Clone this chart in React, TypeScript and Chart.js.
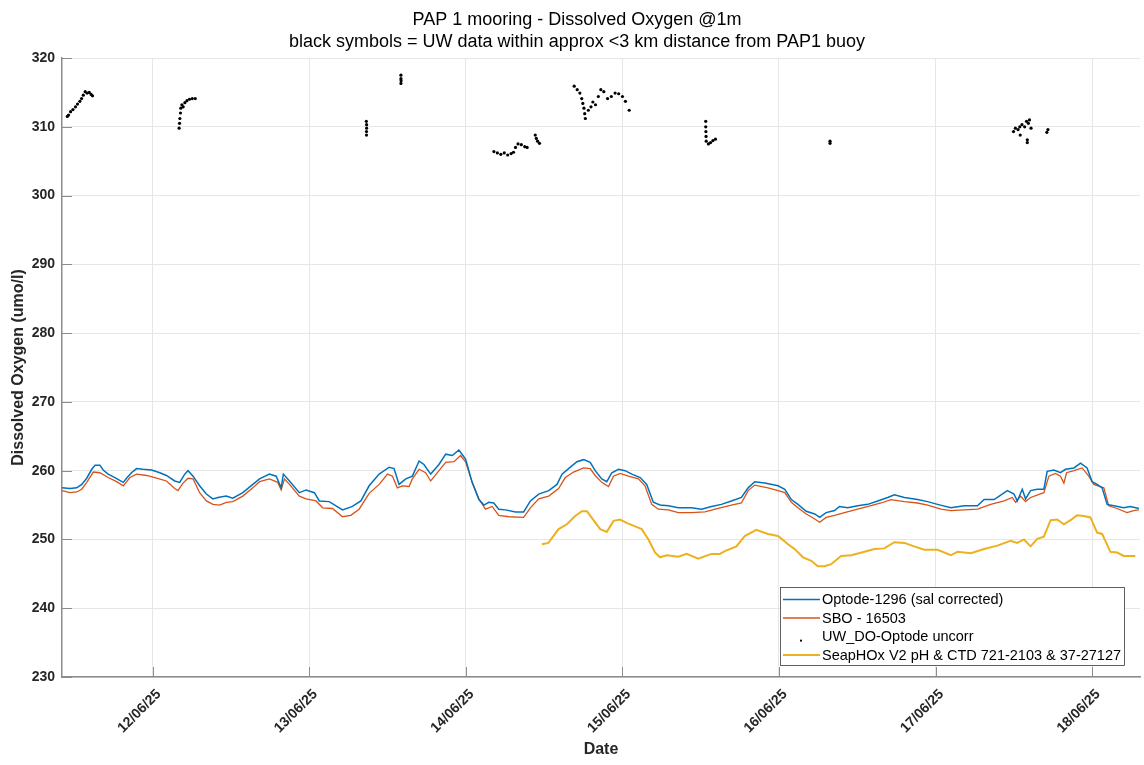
import React, { useEffect, useRef } from "react";
import { Chart, registerables } from "chart.js";

Chart.register(...registerables);

const CANVAS_W = 1144;
const CANVAS_H = 765;
const FONT = '"Liberation Sans", Arial, Helvetica, sans-serif';

const titleLines = [
  "PAP 1 mooring - Dissolved Oxygen @1m",
  "black symbols = UW data within approx <3 km distance from PAP1 buoy",
];
const yAxisTitle = "Dissolved Oxygen (umo/l)";
const xAxisTitle = "Date";

// x = days since 11/06/25 00:00
const xMin = 0.42;
const xMax = 7.306;
const xTickValues = [1, 2, 3, 4, 5, 6, 7];
const xTickLabels = ["12/06/25", "13/06/25", "14/06/25", "15/06/25", "16/06/25", "17/06/25", "18/06/25"];
const yMin = 230;
const yMax = 320;
const yTickValues = [230, 240, 250, 260, 270, 280, 290, 300, 310, 320];

const seriesNames = [
  "Optode-1296 (sal corrected)",
  "SBO - 16503",
  "UW_DO-Optode uncorr",
  "SeapHOx V2 pH & CTD 721-2103 & 37-27127",
];
const seriesColors = ["#0072BD", "#D95319", "#000000", "#EDB120"];

const optodeT = [
  0.42, 0.471, 0.514, 0.546, 0.578, 0.61, 0.631, 0.662, 0.683, 0.715, 0.758, 0.811, 0.832, 0.864, 0.896, 0.938,
  0.992, 1.045, 1.087, 1.14, 1.172, 1.204, 1.225, 1.257, 1.299, 1.342, 1.384, 1.416, 1.469, 1.511, 1.575, 1.639,
  1.682, 1.745, 1.788, 1.82, 1.834, 1.873, 1.936, 1.979, 2.032, 2.064, 2.127, 2.212, 2.275, 2.329, 2.382, 2.446,
  2.51, 2.541, 2.573, 2.616, 2.658, 2.701, 2.732, 2.775, 2.828, 2.871, 2.913, 2.955, 2.998, 3.04, 3.083, 3.115,
  3.146, 3.178, 3.21, 3.253, 3.317, 3.369, 3.412, 3.465, 3.529, 3.582, 3.614, 3.656, 3.709, 3.752, 3.794, 3.826,
  3.868, 3.9, 3.932, 3.975, 4.017, 4.06, 4.113, 4.155, 4.197, 4.24, 4.293, 4.357, 4.441, 4.505, 4.569, 4.632,
  4.696, 4.76, 4.803, 4.845, 4.909, 4.994, 5.037, 5.079, 5.121, 5.174, 5.228, 5.26, 5.301, 5.355, 5.386, 5.439,
  5.503, 5.567, 5.631, 5.694, 5.737, 5.801, 5.885, 5.949, 6.013, 6.098, 6.183, 6.268, 6.31, 6.374, 6.459, 6.501,
  6.522, 6.554, 6.575, 6.607, 6.65, 6.692, 6.713, 6.756, 6.798, 6.83, 6.884, 6.926, 6.968, 7.0, 7.032, 7.064,
  7.096, 7.139, 7.202, 7.245, 7.299,
];
const optodeV = [
  257.5, 257.4, 257.5, 258.0, 258.9, 260.2, 260.8, 260.8, 260.1, 259.5, 259.0, 258.3, 258.9, 259.7, 260.3, 260.2,
  260.1, 259.7, 259.3, 258.5, 258.3, 259.5, 260.0, 259.2, 257.8, 256.6, 255.9, 256.1, 256.3, 256.0, 256.8, 258.0,
  258.8, 259.5, 259.2, 257.5, 259.5, 258.5, 256.8, 257.2, 256.8, 255.6, 255.5, 254.3, 254.8, 255.6, 257.8, 259.5,
  260.5, 260.3, 258.0, 258.8, 259.2, 261.4, 260.9, 259.5, 260.9, 262.4, 262.2, 263.0, 261.7, 258.3, 255.8, 255.0,
  255.4, 255.3, 254.4, 254.3, 254.0, 254.0, 255.6, 256.6, 257.1, 258.0, 259.5, 260.3, 261.3, 261.6, 261.2, 260.0,
  258.8, 258.4, 259.7, 260.2, 260.0, 259.5, 259.0, 258.0, 255.4, 255.0, 254.9, 254.6, 254.6, 254.4, 254.8, 255.1,
  255.6, 256.1, 257.5, 258.4, 258.2, 257.8, 257.3, 255.8, 255.1, 254.1, 253.7, 253.2, 253.9, 254.2, 254.8, 254.6,
  254.9, 255.1, 255.6, 256.1, 256.5, 256.1, 255.8, 255.5, 255.1, 254.6, 254.9, 254.9, 255.8, 255.8, 257.1, 256.6,
  255.6, 257.3, 255.9, 257.1, 257.3, 257.3, 259.9, 260.1, 259.7, 260.2, 260.4, 261.1, 260.4, 258.4, 258.0, 257.5,
  255.1, 254.9, 254.6, 254.8, 254.5,
];

const sboT = [
  0.42, 0.471, 0.514, 0.546, 0.578, 0.62, 0.662, 0.715, 0.769, 0.811, 0.854, 0.896, 0.96, 1.024, 1.087, 1.14,
  1.161, 1.193, 1.225, 1.257, 1.299, 1.342, 1.384, 1.427, 1.469, 1.511, 1.575, 1.639, 1.682, 1.745, 1.798, 1.82,
  1.841, 1.873, 1.936, 1.979, 2.043, 2.085, 2.148, 2.212, 2.265, 2.318, 2.382, 2.446, 2.499, 2.531, 2.562, 2.594,
  2.637, 2.658, 2.701, 2.743, 2.775, 2.828, 2.871, 2.924, 2.966, 2.998, 3.04, 3.083, 3.125, 3.168, 3.21, 3.274,
  3.369, 3.412, 3.465, 3.529, 3.592, 3.635, 3.688, 3.752, 3.794, 3.826, 3.868, 3.911, 3.943, 3.985, 4.038, 4.102,
  4.144, 4.187, 4.229, 4.293, 4.357, 4.441, 4.527, 4.611, 4.696, 4.76, 4.803, 4.845, 4.93, 4.994, 5.037, 5.079,
  5.121, 5.174, 5.206, 5.26, 5.301, 5.355, 5.418, 5.503, 5.588, 5.652, 5.715, 5.801, 5.885, 5.949, 6.034, 6.098,
  6.183, 6.268, 6.352, 6.438, 6.49, 6.512, 6.543, 6.575, 6.607, 6.692, 6.724, 6.766, 6.798, 6.82, 6.837, 6.884,
  6.936, 6.979, 7.011, 7.075, 7.106, 7.159, 7.223, 7.266, 7.299,
];
const sboV = [
  257.1, 256.8, 256.9, 257.3, 258.3, 259.8, 259.7, 259.0, 258.4, 257.8, 259.0, 259.5, 259.3, 258.9, 258.5, 257.4,
  257.1, 258.2, 258.9, 258.8, 256.8, 255.6, 255.1, 255.0, 255.4, 255.5, 256.3, 257.5, 258.4, 258.8, 258.3, 257.2,
  258.8, 258.0, 256.3, 255.9, 255.6, 254.6, 254.5, 253.3, 253.5, 254.4, 256.7, 258.0, 259.5, 259.2, 257.5, 257.8,
  257.7, 258.8, 260.2, 259.7, 258.5, 260.0, 261.2, 261.3, 262.2, 261.3, 258.3, 255.9, 254.4, 254.8, 253.5, 253.3,
  253.2, 254.6, 255.9, 256.3, 257.4, 259.0, 259.8, 260.4, 260.3, 259.3, 258.3, 257.7, 259.2, 259.6, 259.2, 258.8,
  257.8, 255.1, 254.4, 254.3, 253.9, 253.9, 254.0, 254.5, 255.0, 255.3, 257.1, 257.9, 257.5, 257.1, 256.8, 255.4,
  254.6, 253.7, 253.3, 252.5, 253.2, 253.5, 253.9, 254.4, 254.9, 255.3, 255.8, 255.5, 255.3, 255.0, 254.4, 254.2,
  254.3, 254.4, 255.1, 255.6, 256.1, 255.4, 256.3, 255.5, 256.1, 256.8, 259.2, 259.6, 259.2, 258.2, 259.7, 260.0,
  260.4, 259.2, 258.0, 257.5, 254.9, 254.5, 253.9, 254.2, 254.3,
];

const uwT = [
  0.454, 0.462, 0.475, 0.49, 0.506, 0.519, 0.534, 0.545, 0.556, 0.568, 0.58, 0.594, 0.606, 0.615,
  1.168, 1.171, 1.173, 1.177, 1.179, 1.186, 1.194, 1.205, 1.218, 1.234, 1.252, 1.271,
  2.364, 2.366, 2.366, 2.365, 2.365,
  2.585, 2.585, 2.586, 2.585,
  3.179, 3.201, 3.223, 3.245, 3.267, 3.289, 3.304, 3.317, 3.333, 3.354, 3.376, 3.391, 3.443, 3.45, 3.458, 3.47,
  3.692, 3.711, 3.728, 3.74, 3.747, 3.754, 3.759, 3.763, 3.782, 3.799, 3.811, 3.828, 3.846, 3.862, 3.881, 3.905,
  3.929, 3.953, 3.976, 4.0, 4.019, 4.043,
  4.532, 4.532, 4.533, 4.534, 4.535, 4.549, 4.563, 4.578, 4.594,
  5.326, 5.326,
  6.498, 6.51, 6.527, 6.538, 6.552, 6.569, 6.581, 6.593, 6.6, 6.61, 6.586, 6.586, 6.541, 6.718, 6.711,
];
const uwV = [
  311.5, 311.7, 312.2, 312.5, 312.9, 313.3, 313.7, 314.1, 314.6, 315.1, 314.9, 315.0, 314.7, 314.5,
  309.8, 310.5, 311.2, 312.0, 312.7, 313.2, 312.9, 313.5, 313.8, 314.0, 314.1, 314.1,
  310.8, 310.3, 309.8, 309.3, 308.8,
  317.5, 317.0, 316.7, 316.3,
  306.4, 306.2, 306.0, 306.2, 305.9, 306.1, 306.3, 307.0, 307.5, 307.4, 307.1, 307.0, 308.8, 308.3, 307.9, 307.6,
  315.9, 315.4, 314.9, 314.1, 313.4, 312.7, 311.9, 311.2, 312.4, 312.9, 313.6, 313.2, 314.4, 315.4, 315.1, 314.1,
  314.4, 314.9, 314.8, 314.4, 313.7, 312.4,
  310.8, 310.0, 309.3, 308.6, 307.9, 307.5, 307.7, 308.0, 308.2,
  307.9, 307.6,
  309.3, 309.8, 309.6, 310.0, 310.3, 310.0, 310.8, 310.5, 311.0, 309.8, 308.1, 307.7, 308.8, 309.6, 309.2,
];

const seaphoxT = [
  3.485, 3.527, 3.592, 3.645, 3.698, 3.741, 3.773, 3.815, 3.858, 3.9, 3.943, 3.985, 4.027, 4.081, 4.123, 4.166,
  4.208, 4.24, 4.283, 4.357, 4.41, 4.484, 4.569, 4.622, 4.654, 4.728, 4.781, 4.855, 4.93, 4.994, 5.058, 5.1,
  5.153, 5.206, 5.248, 5.291, 5.333, 5.397, 5.461, 5.546, 5.609, 5.673, 5.737, 5.801, 5.864, 5.928, 6.013, 6.098,
  6.14, 6.225, 6.31, 6.395, 6.48, 6.522, 6.565, 6.607, 6.65, 6.692, 6.735, 6.777, 6.82, 6.862, 6.904, 6.947,
  6.989, 7.032, 7.064, 7.117, 7.16, 7.202, 7.276,
];
const seaphoxV = [
  249.3, 249.5, 251.5, 252.2, 253.4, 254.1, 254.1, 252.8, 251.5, 251.1, 252.7, 252.9, 252.4, 251.9, 251.5, 250.0,
  248.1, 247.4, 247.7, 247.5, 247.9, 247.2, 247.9, 247.9, 248.3, 249.0, 250.5, 251.4, 250.8, 250.5, 249.3, 248.6,
  247.4, 246.9, 246.1, 246.1, 246.4, 247.6, 247.7, 248.2, 248.6, 248.7, 249.6, 249.5, 249.0, 248.5, 248.5, 247.7,
  248.2, 248.0, 248.6, 249.1, 249.8, 249.5, 250.0, 249.0, 250.1, 250.4, 252.8, 252.9, 252.2, 252.8, 253.5, 253.4,
  253.2, 251.0, 250.8, 248.2, 248.1, 247.6, 247.6,
];

const toXY = (t: number[], v: number[]) => t.map((x, i) => ({ x, y: v[i] }));

const decorPlugin = {
  id: "decor",
  afterDraw(chart: any) {
    const ctx = chart.ctx as CanvasRenderingContext2D;
    const a = chart.chartArea;
    const xs = chart.scales.x;
    const ys = chart.scales.y;
    ctx.save();

    // inward tick marks
    ctx.strokeStyle = "#8c8c8c";
    ctx.lineWidth = 1;
    yTickValues.forEach((v) => {
      const y = Math.round(ys.getPixelForValue(v)) + 0.5;
      ctx.beginPath();
      ctx.moveTo(a.left, y);
      ctx.lineTo(a.left + 10, y);
      ctx.stroke();
    });
    xTickValues.forEach((v) => {
      const x = Math.round(xs.getPixelForValue(v)) + 0.5;
      ctx.beginPath();
      ctx.moveTo(x, a.bottom);
      ctx.lineTo(x, a.bottom - 10);
      ctx.stroke();
    });

    // title
    ctx.fillStyle = "#000000";
    ctx.font = `18px ${FONT}`;
    ctx.textAlign = "center";
    ctx.textBaseline = "alphabetic";
    ctx.fillText(titleLines[0], 577, 25);
    ctx.fillText(titleLines[1], 577, 47);

    // axis titles
    ctx.fillStyle = "#262626";
    ctx.font = `bold 16px ${FONT}`;
    ctx.textBaseline = "middle";
    ctx.fillText(xAxisTitle, (a.left + a.right) / 2, 750);
    ctx.save();
    ctx.translate(19, (a.top + a.bottom) / 2);
    ctx.rotate(-Math.PI / 2);
    ctx.fillText(yAxisTitle, 0, 0);
    ctx.restore();

    // legend
    const bx = 780.5, by = 587.5, bw = 344, bh = 78;
    ctx.fillStyle = "#ffffff";
    ctx.fillRect(bx, by, bw, bh);
    ctx.strokeStyle = "#3a3a3a";
    ctx.lineWidth = 0.8;
    ctx.strokeRect(bx, by, bw, bh);
    ctx.font = `14.5px ${FONT}`;
    ctx.textAlign = "left";
    ctx.textBaseline = "middle";
    const rowY = [599.5, 618, 636.7, 655];
    seriesNames.forEach((name, i) => {
      const y = rowY[i];
      if (i === 2) {
        ctx.fillStyle = seriesColors[i];
        ctx.beginPath();
        ctx.arc(801, y + 4, 1.1, 0, Math.PI * 2);
        ctx.fill();
      } else {
        ctx.strokeStyle = seriesColors[i];
        ctx.lineWidth = i === 3 ? 2 : 1.3;
        ctx.beginPath();
        ctx.moveTo(783, y);
        ctx.lineTo(820, y);
        ctx.stroke();
      }
      ctx.fillStyle = "#000000";
      ctx.fillText(name, 822, y + 0.5);
    });

    ctx.restore();
  },
};

export default function App() {
  const canvasRef = useRef<HTMLCanvasElement | null>(null);

  useEffect(() => {
    if (!canvasRef.current) return;
    const chart = new Chart(canvasRef.current, {
      type: "line",
      data: {
        datasets: [
          {
            label: seriesNames[0],
            data: toXY(optodeT, optodeV),
            borderColor: seriesColors[0],
            borderWidth: 1.5,
            pointRadius: 0,
            tension: 0,
          },
          {
            label: seriesNames[1],
            data: toXY(sboT, sboV),
            borderColor: seriesColors[1],
            borderWidth: 1.3,
            pointRadius: 0,
            tension: 0,
          },
          {
            label: seriesNames[2],
            data: toXY(uwT, uwV),
            showLine: false,
            borderColor: seriesColors[2],
            backgroundColor: seriesColors[2],
            pointRadius: 1.6,
            pointBorderWidth: 0,
          },
          {
            label: seriesNames[3],
            data: toXY(seaphoxT, seaphoxV),
            borderColor: seriesColors[3],
            borderWidth: 2,
            pointRadius: 0,
            tension: 0,
          },
        ],
      },
      options: {
        responsive: false,
        animation: false,
        layout: { padding: { top: 58, right: 1, left: 0, bottom: 0 } },
        plugins: {
          legend: { display: false },
          title: { display: false },
          tooltip: { enabled: false },
        },
        scales: {
          x: {
            type: "linear",
            min: xMin,
            max: xMax,
            afterBuildTicks: (s: any) => {
              s.ticks = xTickValues.map((v) => ({ value: v }));
            },
            afterFit: (s: any) => {
              s.height = 88;
            },
            grid: { color: "#e6e6e6", drawTicks: false },
            border: { color: "#8c8c8c", width: 1.5 },
            ticks: {
              autoSkip: false,
              minRotation: 45,
              maxRotation: 45,
              padding: 9,
              labelOffset: 6,
              color: "#262626",
              font: { family: FONT, size: 14, weight: "bold" },
              callback: (v: any) => {
                const i = xTickValues.indexOf(Number(v));
                return i >= 0 ? xTickLabels[i] : "";
              },
            },
          },
          y: {
            type: "linear",
            min: yMin,
            max: yMax,
            afterBuildTicks: (s: any) => {
              s.ticks = yTickValues.map((v) => ({ value: v }));
            },
            afterFit: (s: any) => {
              s.width = 62;
            },
            grid: { color: "#e6e6e6", drawTicks: false },
            border: { color: "#8c8c8c", width: 1.5 },
            ticks: {
              padding: 7,
              color: "#262626",
              font: { family: FONT, size: 14, weight: "bold" },
            },
          },
        },
      },
      plugins: [decorPlugin],
    });
    return () => chart.destroy();
  }, []);

  return (
    <div style={{ position: "absolute", left: 0, top: 0, width: CANVAS_W, height: CANVAS_H, background: "#ffffff" }}>
      <canvas ref={canvasRef} width={CANVAS_W} height={CANVAS_H} style={{ display: "block" }} />
    </div>
  );
}
